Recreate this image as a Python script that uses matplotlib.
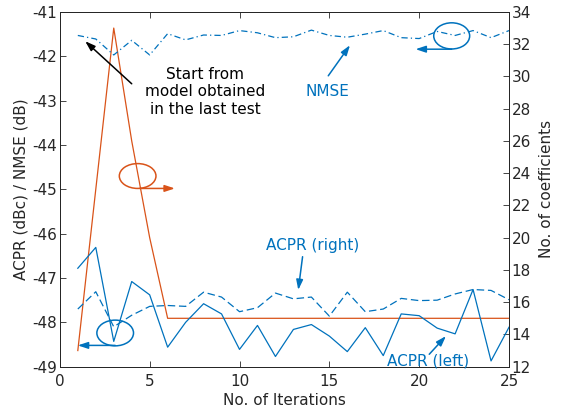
import matplotlib
matplotlib.use("Agg")
import matplotlib.pyplot as plt
from matplotlib.patches import Ellipse
import numpy as np

iterations = list(range(1, 26))
nmse = [-41.53, -41.61, -41.97, -41.64, -41.97, -41.49, -41.63, -41.52, -41.53, -41.42,
        -41.47, -41.58, -41.56, -41.41, -41.53, -41.57, -41.50, -41.42, -41.58, -41.60,
        -41.44, -41.53, -41.42, -41.58, -41.42]
acpr_left = [-46.78, -46.31, -48.43, -47.08, -47.38, -48.56, -48.00, -47.58, -47.81, -48.61,
             -48.07, -48.77, -48.16, -48.05, -48.31, -48.66, -48.12, -48.75, -47.81, -47.85,
             -48.13, -48.26, -47.26, -48.87, -48.11]
acpr_right = [-47.70, -47.31, -48.10, -47.84, -47.64, -47.62, -47.64, -47.32, -47.43, -47.76,
              -47.67, -47.34, -47.47, -47.43, -47.86, -47.32, -47.76, -47.70, -47.46, -47.51,
              -47.50, -47.36, -47.26, -47.28, -47.49]
coefficients = [13, 23, 33, 26, 20, 15, 15, 15, 15, 15, 15, 15, 15, 15, 15, 15, 15, 15, 15, 15,
                15, 15, 15, 15, 15]

x_ticks = [0, 5, 10, 15, 20, 25]
left_ticks = [-49, -48, -47, -46, -45, -44, -43, -42, -41]
right_ticks = list(range(12, 35, 2))

blue = "#0072BD"
orange = "#D95319"
plt.rcParams['font.family'] = ['DejaVu Sans']
plt.rcParams['axes.unicode_minus'] = False
fs = 11

fig = plt.figure(figsize=(5.7, 4.12), dpi=100)
ax = fig.add_axes([0.105, 0.110, 0.788, 0.861])
ax2 = ax.twinx()

ax.plot(iterations, nmse, color=blue, lw=0.9, dashes=(5, 2.5, 1, 2.5))
ax.plot(iterations, acpr_left, color=blue, lw=0.9)
ax.plot(iterations, acpr_right, color=blue, lw=0.9, dashes=(6, 3))
ax2.plot(iterations, coefficients, color=orange, lw=0.9)

ax.set_xlim(0, 25)
ax.set_ylim(-49, -41)
ax2.set_ylim(12, 34)
ax.set_xticks(x_ticks)
ax.set_yticks(left_ticks)
ax2.set_yticks(right_ticks)

for a in (ax, ax2):
    a.tick_params(direction='in', labelsize=fs, length=4, width=0.6, colors='#262626', pad=2)
    for s in a.spines.values():
        s.set_linewidth(0.7)
        s.set_color('#262626')
ax.tick_params(axis='x', top=True, pad=5)
ax.set_xlabel("No. of Iterations", fontsize=fs, labelpad=3, color='#262626')
ax.set_ylabel("ACPR (dBc) / NMSE (dB)", fontsize=fs, labelpad=3, color='#262626')
ax2.set_ylabel("No. of coefficients", fontsize=fs, labelpad=6, color='#262626')

ax2.set_zorder(0)
ax.set_zorder(1)
ax.patch.set_visible(False)

def arrow(x0, y0, x1, y1, color):
    ax.annotate("", xy=(x1, y1), xytext=(x0, y0),
                arrowprops=dict(arrowstyle='-|>,head_length=0.6,head_width=0.2',
                                color=color, lw=1.1, shrinkA=0, shrinkB=0))

# black arrow and text
arrow(4.0, -42.62, 1.41, -41.66, 'black')
ax.text(8.1, -42.8, "Start from\nmodel obtained\nin the last test", ha='center', va='center',
        fontsize=fs, color='black', linespacing=1.2)

# NMSE
ax.text(14.9, -42.8, "NMSE", ha='center', va='center', fontsize=fs, color=blue)
arrow(14.94, -42.44, 16.15, -41.75, blue)

# top ellipse
ax.add_patch(Ellipse((21.81, -41.54), 2.0, 0.59, fill=False, ec=blue, lw=1.1))
arrow(21.81, -41.84, 19.8, -41.84, blue)

# orange ellipse
ax.add_patch(Ellipse((4.33, -44.70), 2.04, 0.56, fill=False, ec=orange, lw=1.1))
arrow(4.45, -44.98, 6.4, -44.98, orange)

# bottom ellipse
ax.add_patch(Ellipse((3.08, -48.24), 2.04, 0.58, fill=False, ec=blue, lw=1.1))
arrow(3.08, -48.52, 1.0, -48.52, blue)

# ACPR (right)
ax.text(14.07, -46.26, "ACPR (right)", ha='center', va='center', fontsize=fs, color=blue)
arrow(13.51, -46.52, 13.27, -47.27, blue)

# ACPR (left)
ax.text(20.5, -48.87, "ACPR (left)", ha='center', va='center', fontsize=fs, color=blue)
arrow(20.56, -48.72, 21.49, -48.31, blue)

fig.savefig("out.png", dpi=100)
